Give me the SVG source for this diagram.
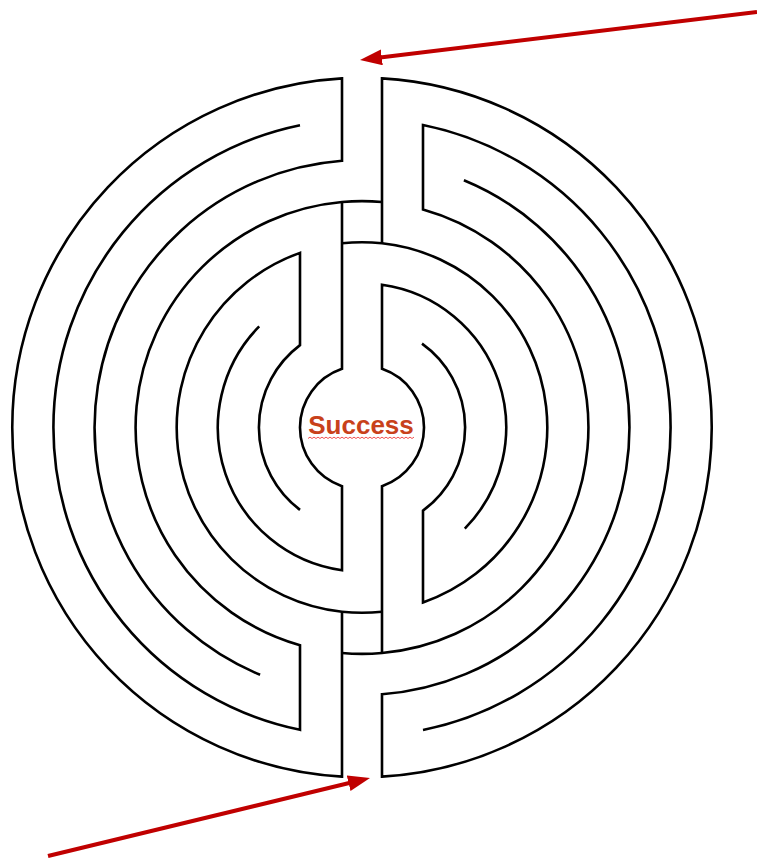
<svg xmlns="http://www.w3.org/2000/svg" width="757" height="858" viewBox="0 0 757 858">
  <style>
    .wall { fill: none; stroke: #000000; stroke-width: 2.6; stroke-linejoin: miter; stroke-linecap: butt; }
    .arrow { fill: none; stroke: #C00000; stroke-width: 4; }
    .label { font-family: "Liberation Sans", Arial, sans-serif; font-weight: bold; font-size: 26px; fill: #C8411B; }
  </style>
  <defs>
    <marker id="head" markerUnits="userSpaceOnUse" markerWidth="22" markerHeight="16" refX="8" refY="8" orient="auto">
      <path d="M0,0 L22,8 L0,16 z" fill="#C00000"/>
    </marker>
  </defs>
  <rect width="757" height="858" fill="#ffffff"/>

  <g id="maze">
    <!-- outer left ring + left corridor walls -->
    <path class="wall" d="M260.1,674.8 A267.5,267.5 0 0 1 342,160.75 L342,78.37 A349.7,349.7 0 0 0 342,776.63 L342,611.72"/>
    <!-- r6 left, L2 lower wall, r4 left + box top -->
    <path class="wall" d="M300,125.2 A308.6,308.6 0 0 0 300,729.81 L300,645.24 A226.4,226.4 0 0 1 342,201.98 A226.4,226.4 0 0 1 382,201.98"/>
    <!-- r1 left, L2 upper wall, r3 left + box top (lower) -->
    <path class="wall" d="M300,509.87 A103.1,103.1 0 0 1 300,345.13 L300,252.88 A185.3,185.3 0 0 0 342,611.72 A185.3,185.3 0 0 0 382,611.72"/>
    <!-- r2 left, L1 middle walls, centre circle left -->
    <path class="wall" d="M259.2,326.4 A144.2,144.2 0 0 0 342,570.31 L342,486.19 A62,62 0 0 1 342,368.81 L342,201.98"/>
    <!-- outer right ring + r5 right -->
    <path class="wall" d="M382,243.28 L382,78.37 A349.7,349.7 0 0 1 382,776.63 L382,694.25 A267.5,267.5 0 0 0 463.9,180.2"/>
    <!-- r6 right, R2 upper wall, r4 right + box bottom -->
    <path class="wall" d="M423,730.01 A308.6,308.6 0 0 0 423,124.99 L423,209.47 A226.4,226.4 0 0 1 382,653.02 A226.4,226.4 0 0 1 342,653.02"/>
    <!-- box bottom (upper) r3 right, R2 lower wall, r1 right -->
    <path class="wall" d="M342,243.28 A185.3,185.3 0 0 1 382,243.28 A185.3,185.3 0 0 1 423,602.47 L423,510.62 A103.1,103.1 0 0 0 422,343.66"/>
    <!-- r2 right, R1 middle walls, centre circle right -->
    <path class="wall" d="M464.8,528.6 A144.2,144.2 0 0 0 382,284.69 L382,368.81 A62,62 0 0 1 382,486.19 L382,653.02"/>
  </g>

  <g id="center-label">
    <text class="label" x="361" y="434" text-anchor="middle">Success</text>
    <path d="M308,438.5 l2,-1.4 l2,1.4 l2,-1.4 l2,1.4 l2,-1.4 l2,1.4 l2,-1.4 l2,1.4 l2,-1.4 l2,1.4 l2,-1.4 l2,1.4 l2,-1.4 l2,1.4 l2,-1.4 l2,1.4 l2,-1.4 l2,1.4 l2,-1.4 l2,1.4 l2,-1.4 l2,1.4 l2,-1.4 l2,1.4 l2,-1.4 l2,1.4 l2,-1.4 l2,1.4 l2,-1.4 l2,1.4 l2,-1.4 l2,1.4 l2,-1.4 l2,1.4 l2,-1.4 l2,1.4 l2,-1.4 l2,1.4 l2,-1.4 l2,1.4 l2,-1.4 l2,1.4 l2,-1.4 l2,1.4 l2,-1.4 l2,1.4 l2,-1.4 l2,1.4 l2,-1.4 l2,1.4 l2,-1.4 l2,1.4 l2,-1.4" fill="none" stroke="#F04040" stroke-width="0.9"/>
  </g>

  <g id="connectors">
    <line id="arrow-in" class="arrow" x1="757" y1="12" x2="373.9" y2="58.3" marker-end="url(#head)"/>
    <line id="arrow-out" class="arrow" x1="48" y1="856" x2="356.4" y2="781.3" marker-end="url(#head)"/>
  </g>
</svg>
